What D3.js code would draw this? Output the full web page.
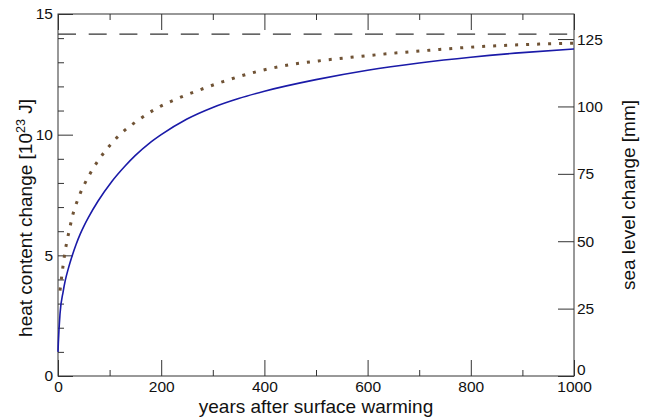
<!DOCTYPE html>
<html>
<head>
<meta charset="utf-8">
<style>
body { margin: 0; background: #fff; }
text { font-family: "Liberation Sans", Arial, Helvetica, sans-serif; fill: #111; }
.tick text { font-size: 15.5px; }
.tick line { stroke: #333; }
</style>
<script src="https://d3js.org/d3.v7.min.js"></script>
</head>
<body>
<svg id="chart" width="649" height="420"></svg>
<script>
// heat content change, solid blue curve (10^23 J)
var heatYears = [0, 0.6, 4, 10, 14, 20, 27, 35, 43, 50, 59, 78, 104, 130, 150, 178, 200, 250, 300, 350, 400, 500, 600, 700, 800, 900, 1000];
var heatValues = [1.0, 1.35, 2.6, 3.5, 3.95, 4.45, 4.95, 5.45, 5.88, 6.2, 6.57, 7.26, 8.05, 8.7, 9.14, 9.66, 10.0, 10.65, 11.13, 11.5, 11.8, 12.28, 12.67, 12.97, 13.21, 13.4, 13.55];

// dotted curve
var dotYears = [3.9, 7, 10, 14, 18, 23, 28, 34, 41, 50, 68, 94, 123, 156, 191, 232, 269, 320, 385, 450, 514, 575, 637, 720, 818, 900, 1000];
var dotValues = [3.54, 4.1, 4.6, 5.2, 5.65, 6.15, 6.63, 7.05, 7.46, 7.89, 8.6, 9.39, 10.06, 10.61, 11.09, 11.5, 11.81, 12.2, 12.61, 12.9, 13.08, 13.22, 13.35, 13.5, 13.65, 13.73, 13.79];

// dashed level
var equilibriumHeat = 14.17;

// ticks
var xMajor = [0, 200, 400, 600, 800, 1000];
var xMinor = [100, 300, 500, 700, 900];
var yMajor = [0, 5, 10, 15];
var yMinor = [1, 2, 3, 4, 6, 7, 8, 9, 11, 12, 13, 14];
var seaTicks = [0, 25, 50, 75, 100, 125];
var mmPerHeat = 8.953;

var svg = d3.select("#chart");
var pLeft = 58, pRight = 574, pTop = 14, pBottom = 376;

var x = d3.scaleLinear().domain([0, 1000]).range([pLeft, pRight]);
var y = d3.scaleLinear().domain([0, 15]).range([pBottom, pTop]);
var y2 = d3.scaleLinear().domain([0, 15 * mmPerHeat]).range([pBottom, pTop]);

function noDomain(g) { g.select(".domain").remove(); }

// frame
svg.append("rect")
  .attr("x", pLeft).attr("y", pTop)
  .attr("width", pRight - pLeft).attr("height", pBottom - pTop)
  .attr("fill", "none").attr("stroke", "#333").attr("stroke-width", 1);

// bottom axis
svg.append("g").attr("transform", "translate(0," + pBottom + ")")
  .call(d3.axisBottom(x).tickValues(xMajor).tickSize(-16).tickPadding(5).tickFormat(d3.format("d")))
  .call(noDomain);
svg.append("g").attr("transform", "translate(0," + pBottom + ")")
  .call(d3.axisBottom(x).tickValues(xMinor).tickSize(-6).tickFormat(""))
  .call(noDomain);
// top axis
svg.append("g").attr("transform", "translate(0," + pTop + ")")
  .call(d3.axisTop(x).tickValues(xMajor).tickSize(-16).tickFormat(""))
  .call(noDomain);
svg.append("g").attr("transform", "translate(0," + pTop + ")")
  .call(d3.axisTop(x).tickValues(xMinor).tickSize(-6).tickFormat(""))
  .call(noDomain);
// left axis
svg.append("g").attr("transform", "translate(" + pLeft + ",0)")
  .call(d3.axisLeft(y).tickValues(yMajor).tickSize(-15).tickPadding(5))
  .call(noDomain);
svg.append("g").attr("transform", "translate(" + pLeft + ",0)")
  .call(d3.axisLeft(y).tickValues(yMinor).tickSize(-6).tickFormat(""))
  .call(noDomain);
// right axis
svg.append("g").attr("transform", "translate(" + pRight + ",0)")
  .call(d3.axisRight(y2).tickValues(seaTicks).tickSize(-16).tickPadding(3))
  .call(noDomain)
  .call(function(g) {
    // lift the zero label clear of the "1000" below it
    g.selectAll(".tick text").filter(function(d) { return d === 0; }).attr("dy", "-0.12em");
  });

// dashed line
svg.append("line")
  .attr("x1", x(0)).attr("x2", x(1000))
  .attr("y1", y(equilibriumHeat)).attr("y2", y(equilibriumHeat))
  .attr("stroke", "#333").attr("stroke-width", 1.3)
  .attr("stroke-dasharray", "18 12.7");

var heatData = heatYears.map(function(d, i) { return {year: d, value: heatValues[i]}; });
var dotData = dotYears.map(function(d, i) { return {year: d, value: dotValues[i]}; });

var line = d3.line()
  .x(function(d) { return x(d.year); })
  .y(function(d) { return y(d.value); })
  .curve(d3.curveMonotoneX);

svg.append("path")
  .attr("d", line(dotData))
  .attr("fill", "none")
  .attr("stroke", "#705335")
  .attr("stroke-width", 3)
  .attr("stroke-dasharray", "3 8");

svg.append("path")
  .attr("d", line(heatData))
  .attr("fill", "none")
  .attr("stroke", "#1a1aa8")
  .attr("stroke-width", 1.6);

// axis titles
svg.append("text")
  .attr("x", (pLeft + pRight) / 2).attr("y", 413)
  .attr("text-anchor", "middle")
  .style("font-size", "19px")
  .text("years after surface warming");

var yl = svg.append("text")
  .attr("transform", "translate(32,218) rotate(-90)")
  .attr("text-anchor", "middle")
  .style("font-size", "19px");
yl.append("tspan").text("heat content change [10");
yl.append("tspan").attr("dy", -7).style("font-size", "12.5px").text("23");
yl.append("tspan").attr("dy", 7).text(" J]");

svg.append("text")
  .attr("transform", "translate(635,195) rotate(-90)")
  .attr("text-anchor", "middle")
  .style("font-size", "19px")
  .text("sea level change [mm]");
</script>
</body>
</html>
